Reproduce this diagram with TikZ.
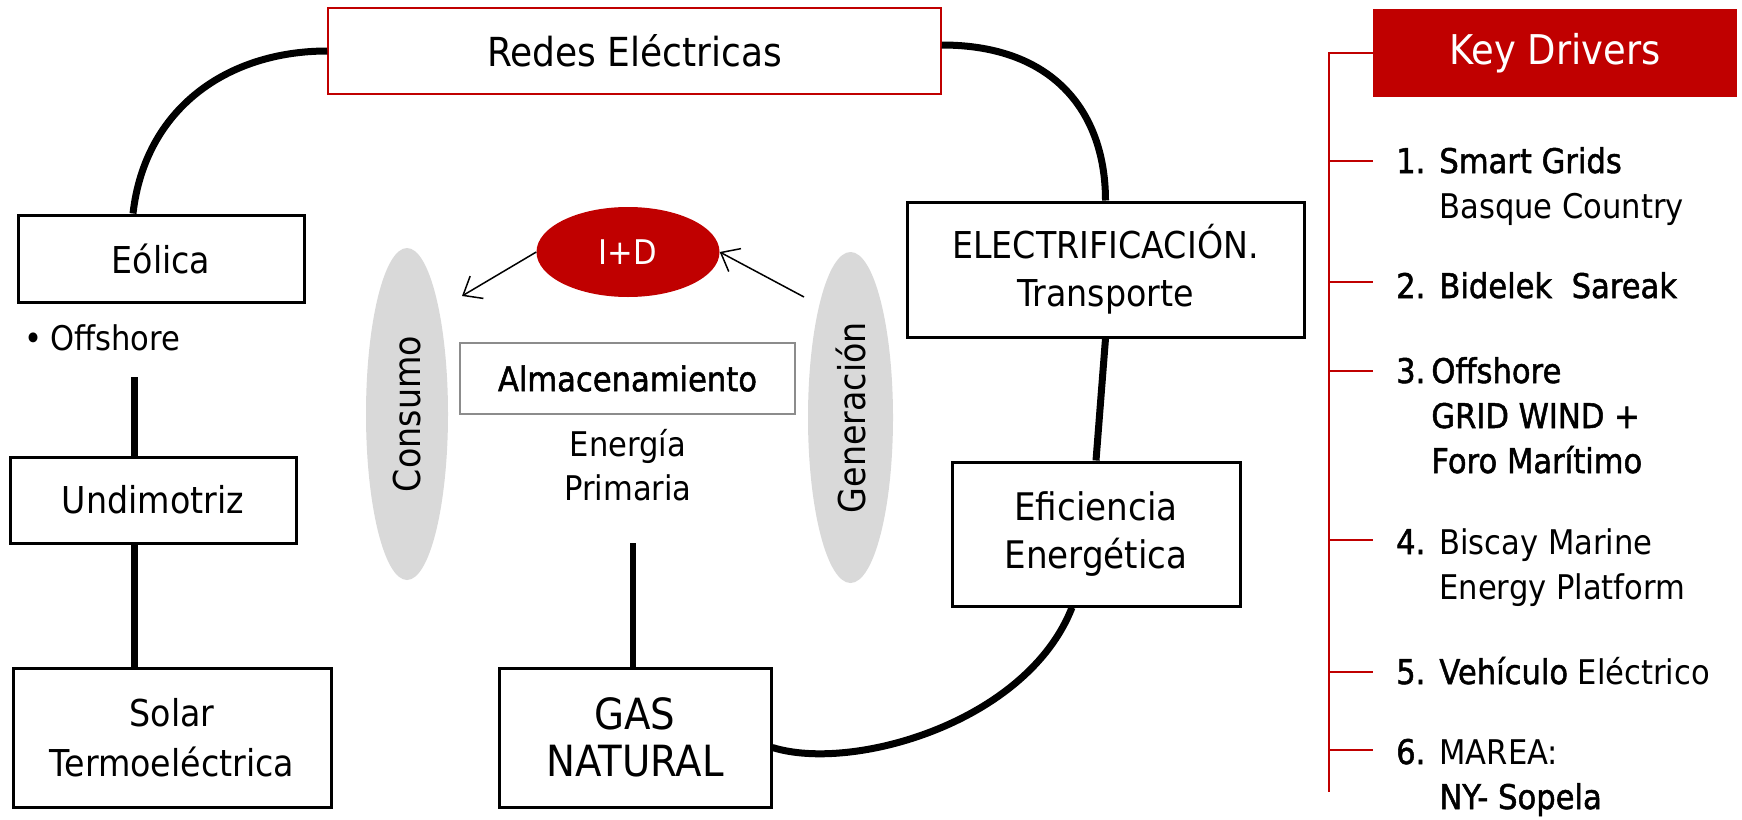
\documentclass[tikz,border=0pt]{standalone}
\usepackage{fontspec}
\setmainfont{DejaVu Sans}[FakeStretch=0.9]
\newfontfamily\heavy{DejaVu Sans}[FakeStretch=0.9,FakeBold=1.5]
\usetikzlibrary{shapes.geometric,arrows.meta}
\definecolor{kdred}{HTML}{C00000}
\definecolor{ovalgray}{HTML}{D9D9D9}
\definecolor{boxgray}{HTML}{8C8C8C}
\begin{document}
\begin{tikzpicture}[x=1pt,y=-1pt,
    every node/.style={inner sep=0pt},
    blackbox/.style={draw=black,line width=3pt,align=center,font=\fontsize{37}{48}\selectfont},
    oval/.style={ellipse,fill=ovalgray,rotate=90,font=\fontsize{37}{44}\selectfont},
    link/.style={line width=7pt},
    idarrow/.style={line width=1.5pt,-{Straight Barb[length=16pt,width=26pt]}},
    keyline/.style={draw=kdred,line width=2pt},
    item/.style={anchor=base west,font=\fontsize{34}{45}\selectfont}]
    \useasboundingbox (0,0) rectangle (1742,819);
    \node[draw=kdred,line width=1.5pt,minimum width=613,minimum height=86,font=\fontsize{40}{48}\selectfont] (redes) at (634.5,51) {Redes Eléctricas};
    \node[fill=kdred,text=white,minimum width=364,minimum height=88,font=\fontsize{41}{48}\selectfont] (kd) at (1555,53) {Key Drivers};
    \node[blackbox,minimum width=286,minimum height=87] (eolica) at (161,258.5) {Eólica};
    \node[anchor=west,font=\fontsize{34}{40}\selectfont] (offshore) at (24,338) {•\hspace{8pt}Offshore};
    \node[blackbox,minimum width=286,minimum height=86] (undim) at (153,500) {Undimotriz};
    \node[blackbox,minimum width=318,minimum height=139,font=\fontsize{37}{50}\selectfont] (solar) at (172,737.5) {Solar\\Termoeléctrica};
    \node[blackbox,minimum width=272,minimum height=139,font=\fontsize{43}{47}\selectfont] (gas) at (635,737.5) {GAS\\NATURAL};
    \node[blackbox,minimum width=397,minimum height=135] (elec) at (1105.5,269.5) {ELECTRIFICACIÓN.\\Transporte};
    \node[blackbox,minimum width=288,minimum height=144,font=\fontsize{38}{48}\selectfont] (efic) at (1096,534) {Eficiencia\\Energética};
    \node[draw=boxgray,line width=2pt,minimum width=335,minimum height=71,font=\heavy\fontsize{34}{40}\selectfont] (almac) at (627.5,378.5) {Almacenamiento};
    \node[align=center,font=\fontsize{34}{44}\selectfont] (energia) at (628,465) {Energía\\Primaria};
    \node[oval,minimum width=332,minimum height=82] (consumo) at (407,414) {Consumo};
    \node[oval,minimum width=331,minimum height=85] (gener) at (850.5,417.5) {Generación};
    \node[ellipse,fill=kdred,text=white,minimum width=183,minimum height=90,font=\fontsize{34}{40}\selectfont] (id) at (628,252) {I+D};
    \coordinate (wavetop) at (134,377);
    \coordinate (gastop) at (633,543);
    \coordinate (consend) at (462,296);
    \coordinate (genstart) at (804,297);
    \coordinate (spinebot) at (1329,792);
    \draw[link] ([xshift=-28pt]eolica.north) .. controls +(12,-105) and +(-100,0) .. (redes.west);
    \draw[link] ([yshift=6pt]redes.east) .. controls +(115,0) and +(0,-85) .. (elec.north);
    \draw[link] (elec.south) -- (efic.north);
    \draw[link] ([xshift=-24pt]efic.south) .. controls +(-45,115) and +(80,25) .. ([yshift=-10pt]gas.east);
    \draw[link] (wavetop) -- (wavetop |- undim.north);
    \draw[link] (wavetop |- undim.south) -- (wavetop |- solar.north);
    \draw[line width=6pt] (gastop) -- (gastop |- gas.north);
    \draw[idarrow] (id.west) -- (consend);
    \draw[idarrow] (genstart) -- (id.east);
    \draw[keyline] (kd.west) -- (kd.west -| spinebot) -- (spinebot);
    \foreach \n/\y in {1/161,2/282,3/371,4/540,5/672,6/750}{
        \coordinate (b\n) at (1373,\y);
        \draw[keyline] (b\n -| spinebot) -- (b\n);
    }
    \node[item] (i1) at ([shift={(23,12)}]b1) {\begin{tabular}[t]{@{}l@{\hspace{14pt}}l@{}}\heavy 1. & \heavy Smart Grids\\ & Basque Country\end{tabular}};
    \node[item] (i2) at ([shift={(23,16)}]b2) {\begin{tabular}[t]{@{}l@{\hspace{14pt}}l@{}}\heavy 2. & \heavy Bidelek\ \ Sareak\end{tabular}};
    \node[item] (i3) at ([shift={(23,12)}]b3) {\begin{tabular}[t]{@{}l@{\hspace{6pt}}l@{}}\heavy 3. & \heavy Offshore\\ & \heavy GRID WIND +\\ & \heavy Foro Marítimo\end{tabular}};
    \node[item] (i4) at ([shift={(23,14)}]b4) {\begin{tabular}[t]{@{}l@{\hspace{14pt}}l@{}}\heavy 4. & Biscay Marine\\ & Energy Platform\end{tabular}};
    \node[item] (i5) at ([shift={(23,12)}]b5) {\begin{tabular}[t]{@{}l@{\hspace{14pt}}l@{}}\heavy 5. & \heavy Vehículo \normalfont Eléctrico\end{tabular}};
    \node[item] (i6) at ([shift={(23,14)}]b6) {\begin{tabular}[t]{@{}l@{\hspace{14pt}}l@{}}\heavy 6. & MAREA:\\ & \heavy NY- Sopela\end{tabular}};
\end{tikzpicture}
\end{document}
